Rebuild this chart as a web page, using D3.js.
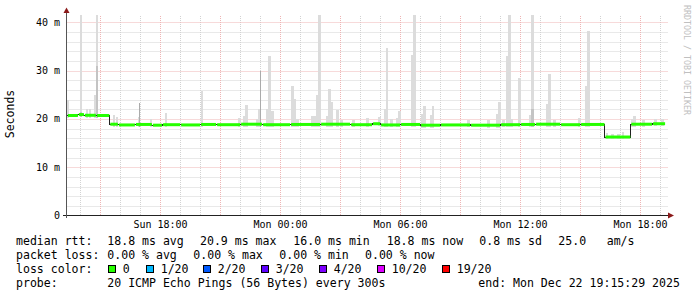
<!DOCTYPE html>
<html><head><meta charset="utf-8">
<script src="https://cdn.jsdelivr.net/npm/d3@7"></script>
<style>
html,body{margin:0;padding:0;background:#fff;}
svg{display:block;font-family:"DejaVu Sans Mono",monospace;}
</style>
</head><body>
<svg id="c" width="697" height="297"></svg>
<script>
// ---- data (hours relative to Sun 18:00, values in ms) ----
const tickHours = [0, 6, 12, 18, 24];
const tickLabels = ["Sun 18:00", "Mon 00:00", "Mon 06:00", "Mon 12:00", "Mon 18:00"];
const yTickValues = [0, 10, 20, 30, 40];
const yTickLabels = ["0", "10 m", "20 m", "30 m", "40 m"];
const timeStart = -4.68, timeEnd = 25.23;

const medianStart = [-4.68,-4.13,-3.83,-3.23,-2.56,-2.13,-1.28,-0.43,0.08,0.98,1.98,2.78,3.98,5.08,6.48,7.98,9.48,10.58,10.98,11.98,12.98,13.98,15.48,16.98,17.98,18.73,19.98,20.98,22.2,23.49,24.58];
const medianValue = [20.7,20.9,20.75,20.7,18.9,18.75,18.85,18.7,18.8,18.75,18.85,18.8,18.9,18.8,18.85,18.9,18.8,19.0,18.75,18.85,18.7,18.75,18.7,18.8,18.85,18.9,18.8,18.85,16.25,18.9,19.0];

const spikeHour = [-4.68,-4.05,-3.75,-3.58,-3.35,-3.25,-2.4,-2.25,-1.13,-0.53,0.22,2.0,3.88,4.13,4.23,4.78,4.88,5.28,5.38,5.53,6.53,6.63,6.78,7.53,7.65,7.78,7.88,8.28,8.38,8.48,8.78,8.98,9.58,10.28,10.88,11.18,11.25,11.48,11.78,11.88,12.53,12.63,13.03,13.13,13.48,13.55,15.33,16.33,16.78,16.88,17.08,17.28,17.38,17.48,17.88,18.43,18.53,19.28,19.38,19.63,20.88,21.23,21.33,22.25,22.53,22.83,23.05,23.53,23.63,24.08,24.68,25.03];
const spikeMax  = [24,41.5,22,22,25,41.5,20.8,20.3,20.3,20.0,21.2,25.8,20.1,20.5,22.9,19.9,22,22,33,21.6,26.8,24.1,19.9,20.6,20.6,25,41.5,20.6,26.2,23.5,21.9,19.8,19.8,20.2,20.3,22,34.7,19.9,20.2,21.6,33.2,41.5,21,22.7,20.8,22.7,19.8,19.7,21.1,23.5,19.8,33.1,41.5,20.0,28.5,20.8,41.5,23,29.3,19.7,20.2,26.8,38.2,17.0,16.8,16.9,17.3,20,20.5,19.7,19.9,20.0];
const spikeDense = [0,21.5,0,0,0,31,0,0,0,0,0,0,0,0,0,0,0,0,0,0,0,0,0,0,0,0,0,0,0,0,0,0,0,0,0,0,0,0,0,0,0,0,0,0,0,0,0,0,0,0,0,0,0,0,0,0,22,0,0,0,0,0,0,0,0,0,0,0,0,0,0,0];
const thinHour = [-1.08, 4.98];
const thinMax  = [23.3, 30];

const legendRows = [
  [["median rtt:",16],["18.8 ms avg",107.3],["20.9 ms max",200],["16.0 ms min",293.3],["18.8 ms now",386.7],["0.8 ms sd",479.3],["25.0",558.3],["am/s",606.7]],
  [["packet loss:",16],["0.00 % avg",107.3],["0.00 % max",193.3],["0.00 % min",279.3],["0.00 % now",365]],
  [["loss color:",16]],
  [["probe:",16],["20 ICMP Echo Pings (56 Bytes) every 300s",107.3],["end: Mon Dec 22 19:15:29 2025",478.3]]
];
const lossLabels = ["0","1/20","2/20","3/20","4/20","10/20","19/20"];
const lossColors = ["#26ff00","#00b8ff","#0059ff","#5e00ff","#7e00ff","#dd00ff","#ff0000"];
const lossBoxX = [108.5,146.5,203.5,261.5,319.5,377.5,442.5];

// ---- drawing ----
const svg = d3.select("#c");
const x = d3.scaleLinear().domain([0, 24]).range([160.5, 640.5]);
const y = d3.scaleLinear().domain([0, 40]).range([215.5, 22.3]);
const plotL = 66.5, plotR = 668, plotT = 15;

// grid
const g = svg.append("g");
const minorH = d3.range(2, 42, 2).filter(v => v % 10 !== 0 && y(v) >= plotT);
g.selectAll(".hm").data(minorH).enter().append("line")
  .attr("x1", plotL + 1).attr("x2", plotR).attr("y1", d => Math.round(y(d)) + 0.5).attr("y2", d => Math.round(y(d)) + 0.5)
  .attr("stroke", "#d2d2d2").attr("stroke-dasharray", "1,1");
const minorV = d3.range(-4, 26, 1).filter(h => h % 3 !== 0);
g.selectAll(".vm").data(minorV).enter().append("line")
  .attr("x1", d => x(d)).attr("x2", d => x(d)).attr("y1", 215).attr("y2", plotT)
  .attr("stroke", "#d2d2d2").attr("stroke-dasharray", "1,1");
const majorV = d3.range(-3, 26, 3);
g.selectAll(".vM").data(majorV).enter().append("line")
  .attr("x1", d => x(d)).attr("x2", d => x(d)).attr("y1", 215).attr("y2", plotT)
  .attr("stroke", "#eeb4b4").attr("stroke-dasharray", "1,1");
g.selectAll(".hM").data([10, 20, 30, 40]).enter().append("line")
  .attr("x1", plotL + 1).attr("x2", plotR).attr("y1", d => Math.round(y(d)) + 0.5).attr("y2", d => Math.round(y(d)) + 0.5)
  .attr("stroke", "#eeb4b4").attr("stroke-dasharray", "1,1");

// median lookup
function medianAt(h) {
  let v = medianValue[0];
  for (let i = 0; i < medianStart.length; i++) if (h >= medianStart[i]) v = medianValue[i];
  return v;
}

// smoke
const barW = 0.12;
const smoke = svg.append("g").attr("shape-rendering", "crispEdges");
const spikes = spikeHour.map((h, i) => ({h, max: spikeMax[i], dense: spikeDense[i]}));
smoke.selectAll(".sp").data(spikes).enter().append("rect")
  .attr("x", d => x(d.h)).attr("width", d => x(d.h + barW) - x(d.h))
  .attr("y", d => y(d.max)).attr("height", d => y(medianAt(d.h) - 0.5) - y(d.max))
  .attr("fill", "#dcdcdc");
smoke.selectAll(".sd").data(spikes.filter(d => d.dense > 0)).enter().append("rect")
  .attr("x", d => x(d.h)).attr("width", d => x(d.h + barW) - x(d.h))
  .attr("y", d => y(d.dense)).attr("height", d => y(medianAt(d.h) - 0.5) - y(d.dense))
  .attr("fill", "#c4c4c4");
const thin = thinHour.map((h, i) => ({h, max: thinMax[i]}));
smoke.selectAll(".th").data(thin).enter().append("rect")
  .attr("x", d => x(d.h)).attr("width", 1)
  .attr("y", d => y(d.max)).attr("height", d => y(medianAt(d.h) - 0.5) - y(d.max))
  .attr("fill", "#ababab");

// median black step line
const medPts = medianStart.map((h, i) => [h, medianValue[i]]);
medPts.push([timeEnd, medianValue[medianValue.length - 1]]);
svg.append("path").datum(medPts)
  .attr("d", d3.line().x(d => x(d[0])).y(d => y(d[1])).curve(d3.curveStepAfter))
  .attr("fill", "none").attr("stroke", "#202020").attr("stroke-width", 1).attr("shape-rendering", "crispEdges");
// median green segments (loss 0)
const segs = medianStart.map((h, i) => ({h0: h, h1: i < medianStart.length - 1 ? medianStart[i + 1] : timeEnd, v: medianValue[i]}));
svg.append("g").selectAll("line").data(segs).enter().append("line")
  .attr("x1", d => x(d.h0) + 1).attr("x2", d => x(d.h1))
  .attr("y1", d => y(d.v)).attr("y2", d => y(d.v))
  .attr("stroke", lossColors[0]).attr("stroke-width", 3);

// axes
svg.append("line").attr("x1", 63).attr("x2", 669).attr("y1", 215.5).attr("y2", 215.5).attr("stroke", "#222");
svg.append("line").attr("x1", 66.5).attr("x2", 66.5).attr("y1", 218).attr("y2", 12).attr("stroke", "#555");
svg.append("path").attr("d", "M63.5,13 L66.5,7.5 L69.5,13 Z").attr("fill", "#8b1a1a");
svg.append("path").attr("d", "M668,212.5 L674,215.5 L668,218.5 Z").attr("fill", "#8b1a1a");

// x labels
svg.selectAll(".xl").data(tickHours).enter().append("text")
  .attr("x", d => x(d)).attr("y", 227.5).attr("text-anchor", "middle")
  .attr("font-size", "10px").attr("fill", "#000").text((d, i) => tickLabels[i]);
// y labels
svg.selectAll(".yl").data(yTickValues).enter().append("text")
  .attr("x", 60).attr("y", d => y(d)).attr("dy", "0.35em").attr("text-anchor", "end")
  .attr("font-size", "10px").attr("fill", "#000").text((d, i) => yTickLabels[i]);

// y title
svg.append("text").attr("transform", "translate(14,114) rotate(-90)").attr("text-anchor", "middle")
  .attr("font-size", "11.5px").attr("fill", "#000").text("Seconds");
// watermark
svg.append("text").attr("transform", "translate(684,5) rotate(90)").attr("text-anchor", "start")
  .attr("font-size", "8.3px").attr("fill", "#c0c0c0").text("RRDTOOL / TOBI OETIKER");

// legend
const baselines = [245, 259, 273, 287];
legendRows.forEach((row, r) => {
  row.forEach(([t, px]) => {
    svg.append("text").attr("x", px).attr("y", baselines[r]).attr("font-size", "11.55px")
      .attr("fill", "#000").attr("xml:space", "preserve").text(t);
  });
});
lossLabels.forEach((lab, i) => {
  svg.append("rect").attr("x", lossBoxX[i]).attr("y", 265.5).attr("width", 7).attr("height", 7)
    .attr("fill", lossColors[i]).attr("stroke", "#000").attr("stroke-width", 1);
  svg.append("text").attr("x", lossBoxX[i] + 14.2).attr("y", 273).attr("font-size", "11.55px")
    .attr("fill", "#000").text(lab);
});
</script>
</body></html>
